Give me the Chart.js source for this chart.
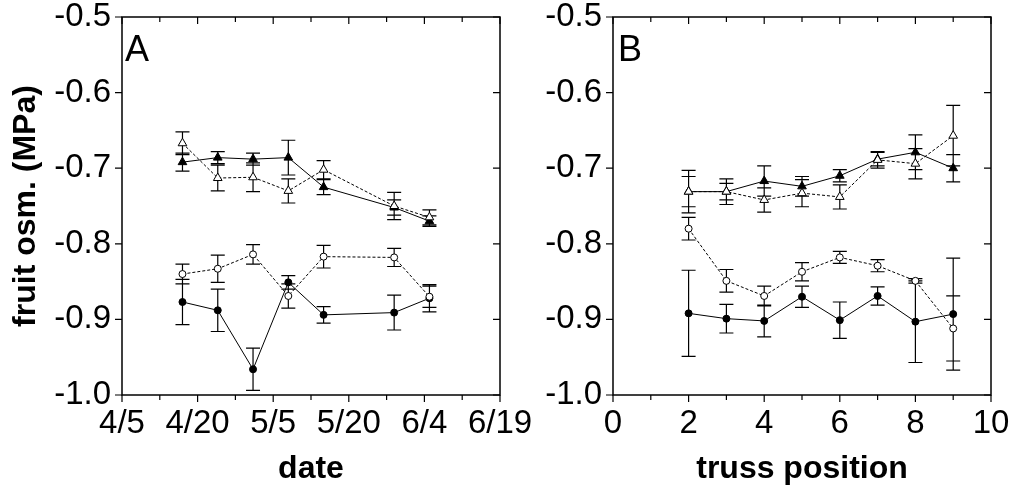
<!DOCTYPE html>
<html>
<head>
<meta charset="utf-8">
<script src="https://cdn.jsdelivr.net/npm/chart.js@4"></script>
<style>
  body { margin: 0; background: #fff; }
  #wrap { position: relative; width: 1013px; height: 494px; overflow: hidden; }
  canvas { position: absolute; top: 0; }
  #chart-a { left: 0; }
  #chart-b { left: 506px; }
  .panel-label { position: absolute; font: 36px 'Liberation Sans', Arial, sans-serif; line-height: 36px; color: #000; }
</style>
</head>
<body>
<div id="wrap">
  <canvas id="chart-a" width="540" height="494"></canvas>
  <canvas id="chart-b" width="507" height="494"></canvas>
  <div class="panel-label" style="left:125px;top:31px">A</div>
  <div class="panel-label" style="left:618px;top:31px">B</div>
</div>
<script>
// Panel A: by sampling date
const datesA = ['4/17', '4/24', '5/1', '5/8', '5/15', '5/29', '6/5'];
const dateTicksA = ['4/5', '4/20', '5/5', '5/20', '6/4', '6/19'];

const filledCircleA = [-0.877, -0.888, -0.966, -0.851, -0.894, -0.891, -0.872];
const filledCircleAErr = [0.030, 0.028, 0.028, 0.009, 0.011, 0.023, 0.018];
const openCircleA = [-0.840, -0.833, -0.814, -0.869, -0.817, -0.818, -0.870];
const openCircleAErr = [0.013, 0.018, 0.013, 0.016, 0.015, 0.012, 0.014];
const filledTriA = [-0.692, -0.686, -0.688, -0.686, -0.725, -0.752, -0.770];
const filledTriAErr = [0.012, 0.008, 0.008, 0.023, 0.010, 0.010, 0.007];
const openTriA = [-0.667, -0.713, -0.712, -0.730, -0.702, -0.750, -0.765];
const openTriAErr = [0.015, 0.017, 0.019, 0.016, 0.012, 0.018, 0.010];

// Panel B: by truss position
const trussB = [2, 3, 4, 5, 6, 7, 8, 9];
const filledCircleB = [-0.892, -0.899, -0.902, -0.870, -0.901, -0.869, -0.903, -0.893];
const filledCircleBErr = [0.057, 0.019, 0.021, 0.014, 0.024, 0.012, 0.054, 0.074];
const openCircleB = [-0.780, -0.849, -0.869, -0.837, -0.818, -0.829, -0.849, -0.912];
const openCircleBErr = [0.015, 0.015, 0.013, 0.012, 0.008, 0.008, 0.003, 0.043];
const filledTriB = [-0.731, -0.731, -0.717, -0.724, -0.710, -0.688, -0.679, -0.700];
const filledTriBErr = [0.028, 0.017, 0.020, 0.013, 0.008, 0.009, 0.023, 0.018];
const openTriB = [-0.731, -0.731, -0.742, -0.733, -0.738, -0.689, -0.694, -0.657];
const openTriBErr = [0.020, 0.011, 0.016, 0.018, 0.016, 0.011, 0.020, 0.040];

const FONT = "'Liberation Sans', Arial, sans-serif";

// days after 4/5
function dayOf(s) {
  const [m, d] = s.split('/').map(Number);
  return (Date.UTC(2000, m - 1, d) - Date.UTC(2000, 3, 5)) / 86400000;
}

function series(xs, ys, errs, filled, style) {
  return {
    data: xs.map((x, i) => ({ x, y: ys[i] })),
    errors: errs,
    borderColor: '#000',
    borderWidth: 1,
    borderDash: filled ? [] : [3, 2],
    pointStyle: style,
    pointRadius: style === 'triangle' ? 5 : 3.5,
    pointBorderWidth: 1,
    pointBackgroundColor: filled ? '#000' : '#fff',
    pointBorderColor: '#000',
    fill: false,
    tension: 0,
  };
}

const errorBars = {
  id: 'errorBars',
  beforeDatasetsDraw(chart) {
    const { ctx, scales: { y } } = chart;
    ctx.save();
    ctx.strokeStyle = '#000';
    ctx.lineWidth = 1.2;
    ctx.beginPath();
    chart.data.datasets.forEach((ds, i) => {
      chart.getDatasetMeta(i).data.forEach((pt, j) => {
        const v = ds.data[j].y, e = ds.errors[j];
        const top = y.getPixelForValue(v + e), bot = y.getPixelForValue(v - e);
        ctx.moveTo(pt.x, top); ctx.lineTo(pt.x, bot);
        ctx.moveTo(pt.x - 7, top); ctx.lineTo(pt.x + 7, top);
        ctx.moveTo(pt.x - 7, bot); ctx.lineTo(pt.x + 7, bot);
      });
    });
    ctx.stroke();
    ctx.restore();
  }
};

const frame = {
  id: 'frame',
  afterDraw(chart) {
    const { ctx, chartArea: a, scales: { x, y } } = chart;
    ctx.save();
    ctx.strokeStyle = '#000';
    ctx.lineWidth = 1.5;
    ctx.strokeRect(a.left, a.top, a.right - a.left, a.bottom - a.top);
    ctx.lineWidth = 1.2;
    ctx.beginPath();
    x.ticks.forEach(t => {
      const px = x.getPixelForValue(t.value);
      const len = t.label ? 7 : 5;
      ctx.moveTo(px, a.bottom); ctx.lineTo(px, a.bottom + len);
      ctx.moveTo(px, a.top); ctx.lineTo(px, a.top + len);
    });
    y.ticks.forEach(t => {
      const py = y.getPixelForValue(t.value);
      const len = t.label ? 7 : 5;
      ctx.moveTo(a.left - len, py); ctx.lineTo(a.left, py);
      ctx.moveTo(a.right - len, py); ctx.lineTo(a.right, py);
    });
    ctx.stroke();
    ctx.restore();
  }
};

function makePanel(id, datasets, xOpts, yWidth, rightPad, yTitle) {
  return new Chart(document.getElementById(id), {
    type: 'line',
    data: { datasets },
    plugins: [errorBars, frame],
    options: {
      responsive: false,
      animation: false,
      layout: { padding: { left: 0, top: 17, right: rightPad, bottom: 0 } },
      plugins: { legend: { display: false }, tooltip: { enabled: false } },
      scales: {
        x: Object.assign({
          type: 'linear',
          grid: { display: false, drawTicks: false },
          border: { display: false },
          title: {
            display: true, text: xOpts.title, color: '#000',
            font: { family: FONT, size: 32, weight: 'bold' },
            padding: { top: 0, bottom: 6 },
          },
          afterFit: s => { s.height = 99; s.paddingLeft = 0; s.paddingRight = 0; },
        }, xOpts.scale),
        y: {
          type: 'linear',
          min: -1.0, max: -0.5,
          grid: { display: false, drawTicks: false },
          border: { display: false },
          ticks: {
            stepSize: 0.05, padding: 11, color: '#000',
            font: { family: FONT, size: 33 },
            callback: v => Math.round(v * 100) % 10 === 0 ? v.toFixed(1) : '',
          },
          title: {
            display: !!yTitle, text: yTitle || '', color: '#000',
            font: { family: FONT, size: 32, weight: 'bold' },
            padding: { top: 7, bottom: 0 },
          },
          afterFit: s => { s.width = yWidth; s.paddingTop = 0; s.paddingBottom = 0; },
        },
      },
    },
  });
}

const daysA = datesA.map(dayOf);

makePanel('chart-a', [
  series(daysA, openTriA, openTriAErr, false, 'triangle'),
  series(daysA, openCircleA, openCircleAErr, false, 'circle'),
  series(daysA, filledTriA, filledTriAErr, true, 'triangle'),
  series(daysA, filledCircleA, filledCircleAErr, true, 'circle'),
], {
  title: 'date',
  scale: {
    min: 0, max: 75,
    ticks: {
      stepSize: 7.5, padding: 9, color: '#000', autoSkip: false, maxRotation: 0,
      font: { family: FONT, size: 33 },
      callback: (v, i) => i % 2 === 0 ? dateTicksA[i / 2] : '',
    },
  },
}, 122, 40, 'fruit osm. (MPa)');

makePanel('chart-b', [
  series(trussB, openTriB, openTriBErr, false, 'triangle'),
  series(trussB, openCircleB, openCircleBErr, false, 'circle'),
  series(trussB, filledTriB, filledTriBErr, true, 'triangle'),
  series(trussB, filledCircleB, filledCircleBErr, true, 'circle'),
], {
  title: 'truss position',
  scale: {
    min: 0, max: 10,
    ticks: {
      stepSize: 1, padding: 9, color: '#000', autoSkip: false, maxRotation: 0,
      font: { family: FONT, size: 33 },
      callback: v => v % 2 === 0 ? String(v) : '',
    },
  },
}, 107, 22, null);
</script>
</body>
</html>
